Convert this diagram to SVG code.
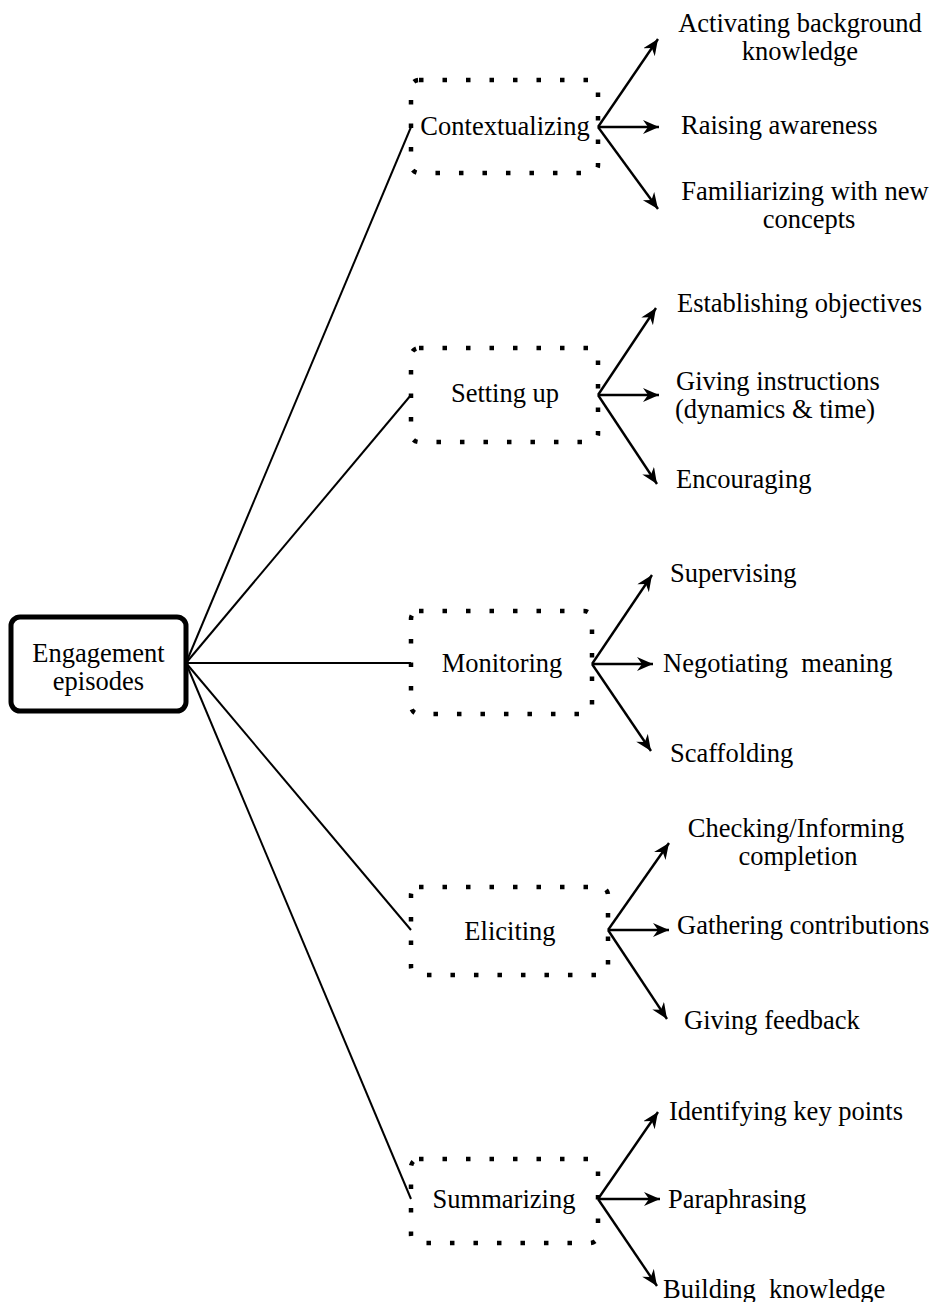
<svg xmlns="http://www.w3.org/2000/svg" width="932" height="1302" viewBox="0 0 932 1302">
<style>
text{font-family:"Liberation Serif","Times New Roman",serif;font-size:26.5px;fill:#000;white-space:pre}
.c{text-anchor:middle}
.dot{fill:none;stroke:#000;stroke-width:4.5;stroke-dasharray:4.5 19}
.ln{stroke:#000;stroke-width:2;fill:none}
.ar{stroke:#000;stroke-width:2.4;fill:none;marker-end:url(#ah)}
</style>
<defs>
<marker id="ah" markerUnits="userSpaceOnUse" markerWidth="18" markerHeight="16" refX="16" refY="7" orient="auto">
<path d="M0,0 L16,7 L0,14 L5,7 Z" fill="#000"/>
</marker>
</defs>
<rect width="932" height="1302" fill="#fff"/>
<g id="connectors">
<line class="ln" x1="186" y1="663" x2="411" y2="127"/>
<line class="ln" x1="186" y1="663" x2="411" y2="395"/>
<line class="ln" x1="186" y1="663" x2="411" y2="663"/>
<line class="ln" x1="186" y1="663" x2="411" y2="930"/>
<line class="ln" x1="186" y1="663" x2="411" y2="1199"/>
<line class="ar" x1="598" y1="127" x2="658" y2="39"/>
<line class="ar" x1="598" y1="127" x2="659" y2="127"/>
<line class="ar" x1="598" y1="127" x2="658" y2="209"/>
<line class="ar" x1="598" y1="395" x2="656" y2="308"/>
<line class="ar" x1="598" y1="395" x2="659" y2="395"/>
<line class="ar" x1="598" y1="395" x2="657" y2="484"/>
<line class="ar" x1="592" y1="664" x2="652" y2="575"/>
<line class="ar" x1="592" y1="664" x2="653" y2="664"/>
<line class="ar" x1="592" y1="664" x2="651" y2="751"/>
<line class="ar" x1="608" y1="930" x2="669" y2="843"/>
<line class="ar" x1="608" y1="930" x2="669" y2="930"/>
<line class="ar" x1="608" y1="930" x2="667" y2="1019"/>
<line class="ar" x1="598" y1="1199" x2="658" y2="1112"/>
<line class="ar" x1="598" y1="1199" x2="660" y2="1199"/>
<line class="ar" x1="598" y1="1199" x2="657" y2="1286"/>
</g>
<g id="root">
<rect x="11" y="617" width="175" height="94" rx="9" fill="#fff" stroke="#000" stroke-width="5"/>
<text class="c" x="98.5" y="662">Engagement<tspan x="98.5" dy="28">episodes</tspan></text>
</g>
<g id="contextualizing">
<rect class="dot" x="411" y="80" width="187" height="93" rx="8"/>
<text class="c" x="505" y="135">Contextualizing</text>
</g>
<g id="setting-up">
<rect class="dot" x="411" y="348" width="187" height="94" rx="8"/>
<text class="c" x="505" y="402">Setting up</text>
</g>
<g id="monitoring">
<rect class="dot" x="411" y="611" width="181" height="103" rx="8"/>
<text class="c" x="502" y="672">Monitoring</text>
</g>
<g id="eliciting">
<rect class="dot" x="411" y="887" width="197" height="88" rx="8"/>
<text class="c" x="510" y="940">Eliciting</text>
</g>
<g id="summarizing">
<rect class="dot" x="411" y="1159" width="187" height="84" rx="8"/>
<text class="c" x="504" y="1208">Summarizing</text>
</g>
<g id="leaves">
<text class="c" x="800" y="32">Activating background<tspan x="800" dy="28">knowledge</tspan></text>
<text x="681" y="134">Raising awareness</text>
<text class="c" x="805" y="200">Familiarizing with new<tspan x="809" dy="28">concepts</tspan></text>
<text x="677" y="312">Establishing objectives</text>
<text x="676" y="390">Giving instructions<tspan x="675" dy="28">(dynamics &amp; time)</tspan></text>
<text x="676" y="488">Encouraging</text>
<text x="670" y="582">Supervising</text>
<text x="663" y="672">Negotiating  meaning</text>
<text x="670" y="762">Scaffolding</text>
<text class="c" x="796" y="837">Checking/Informing<tspan x="798" dy="28">completion</tspan></text>
<text x="677" y="934">Gathering contributions</text>
<text x="684" y="1029">Giving feedback</text>
<text x="669" y="1120">Identifying key points</text>
<text x="668" y="1208">Paraphrasing</text>
<text x="663" y="1298">Building  knowledge</text>
</g>
</svg>
